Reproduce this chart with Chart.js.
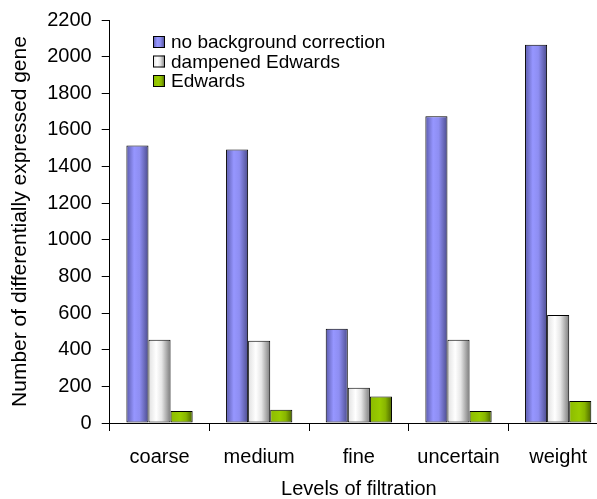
<!DOCTYPE html>
<html>
<head>
<meta charset="utf-8">
<script src="https://cdn.jsdelivr.net/npm/chart.js@4"></script>
<style>
  html, body { margin: 0; padding: 0; background: #fff; overflow: hidden; }
</style>
</head>
<body>
<canvas id="myChart" width="608" height="499"></canvas>
<script>
const categories = ['coarse', 'medium', 'fine', 'uncertain', 'weight'];
const seriesNames = ['no background correction', 'dampened Edwards', 'Edwards'];
const noCorrection = [1515, 1493, 515, 1675, 2065];
const dampened = [454, 449, 192, 454, 589];
const edwards = [66, 73, 144, 66, 120];
const yTicks = [0, 200, 400, 600, 800, 1000, 1200, 1400, 1600, 1800, 2000, 2200];

const CAT_PCT = 0.665;
const FONT = "'Liberation Sans', Arial, sans-serif";

// horizontal shading for the pseudo-3D bars
const blueStops = [[0, '#5a5aac'], [0.35, '#9696ff'], [0.6, '#8e8ef2'], [1, '#4c4c8e']];
const whiteStops = [[0, '#e0e0e0'], [0.35, '#ffffff'], [0.6, '#e6e6e6'], [1, '#7c7c7c']];
const greenStops = [[0, '#8cbb00'], [0.45, '#99cc00'], [0.7, '#88b500'], [1, '#4a6400']];

function makeGradient(c, left, width, stops) {
    const g = c.createLinearGradient(left, 0, left + width, 0);
    stops.forEach(s => g.addColorStop(s[0], s[1]));
    return g;
}

function barFill(stops) {
    return function (context) {
        const chart = context.chart;
        const x = chart.scales.x;
        if (context.type !== 'data' || !x || !chart.chartArea) return stops[1][1];
        const cat = (x.right - x.left) / categories.length;
        const group = cat * CAT_PCT;
        const bw = group / 3;
        const left = x.getPixelForValue(context.dataIndex) - group / 2 + context.datasetIndex * bw;
        return makeGradient(chart.ctx, left, bw, stops);
    };
}

const allStops = [blueStops, whiteStops, greenStops];

const boxLegend = {
    id: 'boxLegend',
    afterDraw(chart) {
        const c = chart.ctx;
        c.save();
        c.font = '19px ' + FONT;
        c.textBaseline = 'middle';
        c.textAlign = 'left';
        seriesNames.forEach((name, i) => {
            const cy = 42 + i * 19.5;
            const bx = 153, by = cy - 6, bs = 12;
            c.fillStyle = makeGradient(c, bx, bs, allStops[i]);
            c.fillRect(bx, by, bs, bs);
            c.strokeStyle = '#000';
            c.lineWidth = 1;
            c.strokeRect(bx + 0.5, by + 0.5, bs - 1, bs - 1);
            c.fillStyle = '#000';
            c.fillText(name, 171, cy + 1);
        });
        c.restore();
    }
};

const ctx = document.getElementById('myChart').getContext('2d');
var myChart = new Chart(ctx, {
    type: 'bar',
    data: {
        labels: categories,
        datasets: [{
            label: seriesNames[0],
            data: noCorrection,
            backgroundColor: barFill(blueStops)
        }, {
            label: seriesNames[1],
            data: dampened,
            backgroundColor: barFill(whiteStops)
        }, {
            label: seriesNames[2],
            data: edwards,
            backgroundColor: barFill(greenStops)
        }]
    },
    plugins: [boxLegend],
    options: {
        responsive: false,
        animation: false,
        devicePixelRatio: 1,
        datasets: {
            bar: {
                borderColor: '#000',
                borderWidth: 1,
                borderSkipped: false,
                categoryPercentage: CAT_PCT,
                barPercentage: 1
            }
        },
        layout: {
            padding: { left: 0, right: 0, top: 3, bottom: -2 }
        },
        plugins: {
            legend: { display: false },
            tooltip: { enabled: false }
        },
        scales: {
            x: {
                grid: {
                    drawOnChartArea: false,
                    tickLength: 8,
                    color: '#000'
                },
                border: { color: '#000', width: 1 },
                ticks: {
                    color: '#000',
                    font: { family: FONT, size: 20 },
                    padding: 14,
                    maxRotation: 0
                },
                title: {
                    display: true,
                    text: 'Levels of filtration',
                    color: '#000',
                    font: { family: FONT, size: 20 },
                    padding: { top: -6, bottom: 0 }
                }
            },
            y: {
                min: 0,
                max: 2200,
                afterBuildTicks(axis) {
                    axis.ticks = yTicks.map(v => ({ value: v }));
                },
                grid: {
                    drawOnChartArea: false,
                    tickLength: 8,
                    color: '#000'
                },
                border: { color: '#000', width: 1 },
                ticks: {
                    color: '#000',
                    font: { family: FONT, size: 20, lineHeight: 1 },
                    padding: 10,
                    callback: v => String(v)
                },
                title: {
                    display: true,
                    text: 'Number of differentially expressed gene',
                    color: '#000',
                    font: { family: FONT, size: 21 },
                    padding: { top: 8, bottom: 4 }
                }
            }
        }
    }
});
</script>
</body>
</html>
